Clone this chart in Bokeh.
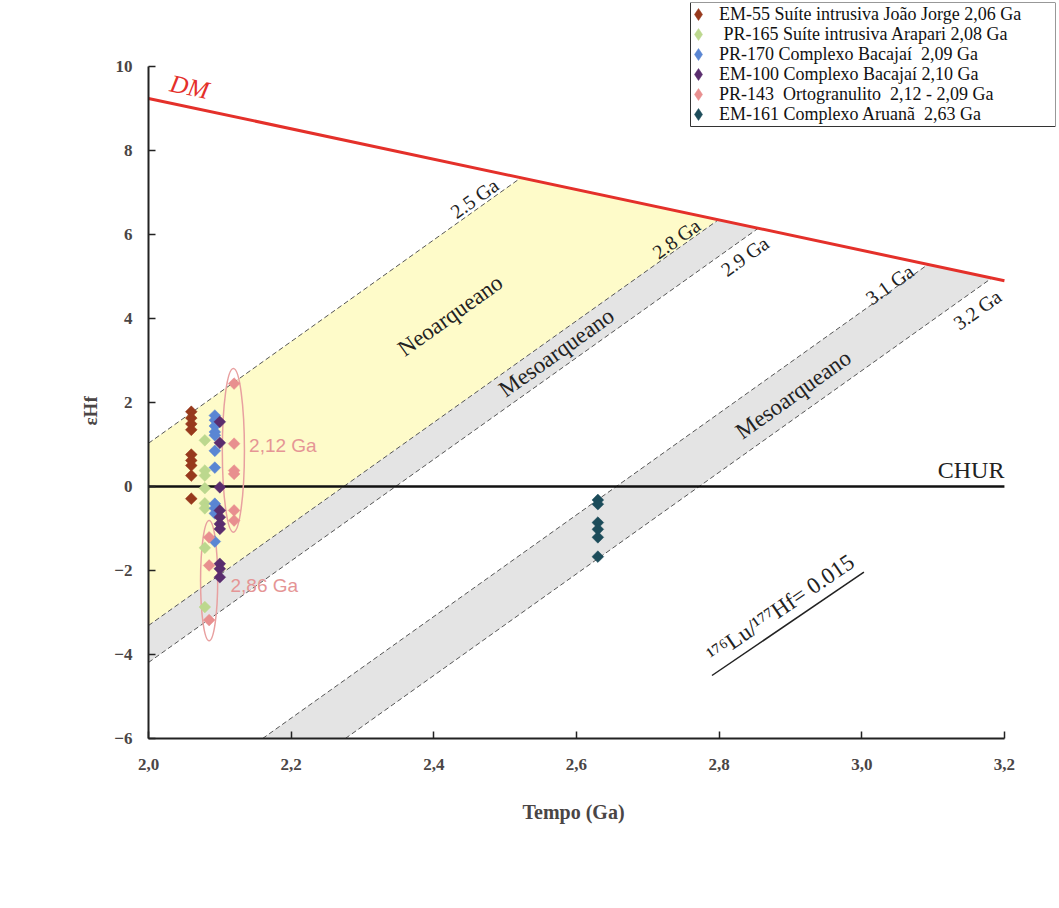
from bokeh.plotting import figure
from bokeh.models import Range1d, FixedTicker, Legend, LegendItem, Title, BoxAnnotation
from bokeh.core.properties import value
from bokeh.embed import file_html
from bokeh.resources import INLINE

# ---------------- data ----------------
x_ticks = [2.0, 2.2, 2.4, 2.6, 2.8, 3.0, 3.2]
x_tick_labels = ["2,0", "2,2", "2,4", "2,6", "2,8", "3,0", "3,2"]
y_ticks = [-6, -4, -2, 0, 2, 4, 6, 8, 10]
x_axis_bounds = (2.0, 3.2)
y_axis_bounds = (-6, 10)
x_label = "Tempo (Ga)"
y_label = "εHf"

dm_t = [2.0, 3.2]
dm_e = [9.24, 4.90]
chur_t = [2.0, 3.2]
chur_e = [0.0, 0.0]

# crustal evolution lines (176Lu/177Hf = 0.015): start and end points
model_labels = ["2.5 Ga", "2.8 Ga", "2.9 Ga", "3.1 Ga", "3.2 Ga"]
line_t0 = [2.0, 2.0, 2.0, 2.16, 2.276]
line_e0 = [1.03, -3.31, -4.19, -6.0, -6.0]
line_t1 = [2.522, 2.799, 2.855, 3.093, 3.182]
line_e1 = [7.35, 6.35, 6.15, 5.29, 4.96]
model_label_t = [2.457, 2.740, 2.836, 3.039, 3.162]
model_label_e = [6.86, 5.90, 5.48, 4.81, 4.21]

period_labels = ["Neoarqueano", "Mesoarqueano", "Mesoarqueano"]
period_t = [2.423, 2.572, 2.904]
period_e = [4.07, 3.19, 2.19]

# samples
em55_t = 2.06
em55_e = [1.78, 1.63, 1.49, 1.35, 0.76, 0.62, 0.50, 0.26, -0.29]
pr165_t = 2.079
pr165_e = [1.10, 0.38, 0.26, -0.04, -0.40, -0.52, -1.46, -2.87]
pr170_t = 2.093
pr170_e = [1.69, 1.58, 1.44, 1.30, 1.22, 0.85, 0.45, -0.41, -0.52, -0.64, -1.31]
em100_t = 2.10
em100_e = [1.54, 1.04, -0.02, -0.57, -0.73, -0.89, -1.01, -1.84, -1.96, -2.16]
pr143_t = [2.12, 2.12, 2.12, 2.12, 2.12, 2.12, 2.085, 2.085, 2.085]
pr143_e = [2.45, 1.02, 0.38, 0.30, -0.57, -0.81, -1.21, -1.88, -3.18]
em161_t = 2.63
em161_e = [-0.32, -0.42, -0.86, -1.02, -1.21, -1.67]

series_names = [
    "EM-55 Suíte intrusiva João Jorge 2,06 Ga",
    " PR-165 Suíte intrusiva Arapari 2,08 Ga",
    "PR-170 Complexo Bacajaí  2,09 Ga",
    "EM-100 Complexo Bacajaí 2,10 Ga",
    "PR-143  Ortogranulito  2,12 - 2,09 Ga",
    "EM-161 Complexo Aruanã  2,63 Ga",
]
series_colors = ["#97391c", "#bcd88e", "#5a86d3", "#5a2d6e", "#e88f8f", "#1c4c5a"]

# ellipses grouping PR-143 zircons
ell_t = [2.119, 2.085]
ell_e = [0.86, -2.24]
ell_w = [0.031, 0.024]
ell_h = [3.9, 2.86]
ell_labels = ["2,12 Ga", "2,86 Ga"]
ell_label_t = [2.141, 2.115]
ell_label_e = [0.98, -2.36]

ratio_line_t = [2.790, 3.003]
ratio_line_e = [-4.50, -2.04]
ratio_text = "¹⁷⁶Lu/¹⁷⁷Hf= 0.015"
ratio_text_t = 2.886
ratio_text_e = -2.90

# ---------------- figure ----------------
SERIF = "Liberation Serif"
AXIS_COLOR = "#4a4545"
FRAME_LEFT, FRAME_BOTTOM = 148, 738   # canvas px of the frame's lower-left corner
# frame is extended up/right so the legend box fits inside it; axes are bounded to the data box
p = figure(width=1059, height=908, x_range=Range1d(2.0, 3.2716), y_range=Range1d(-6, 11.524),
           output_backend="svg", toolbar_location=None,
           min_border_left=FRAME_LEFT, min_border_right=4, min_border_top=2,
           min_border_bottom=908 - FRAME_BOTTOM)
p.grid.visible = False
p.outline_line_color = None
p.background_fill_color = "white"
p.border_fill_color = "white"

for ax in (p.xaxis[0], p.yaxis[0]):
    ax.axis_line_color = "#222222"
    ax.axis_line_width = 2
    ax.major_tick_line_color = "#222222"
    ax.major_tick_line_width = 1.5
    ax.major_tick_in = 7
    ax.major_tick_out = 0
    ax.minor_tick_line_color = None
    ax.major_label_text_font = SERIF
    ax.major_label_text_font_style = "bold"
    ax.major_label_text_font_size = "17px"
    ax.major_label_text_color = AXIS_COLOR

p.xaxis.bounds = x_axis_bounds
p.yaxis.bounds = y_axis_bounds
p.xaxis.ticker = FixedTicker(ticks=x_ticks)
p.xaxis.major_label_overrides = {t: l for t, l in zip(x_ticks, x_tick_labels)}
p.xaxis.major_label_standoff = 20
p.yaxis.ticker = FixedTicker(ticks=y_ticks)
p.yaxis.major_label_standoff = 16

# axis titles, positioned on the bounded axes (not on the enlarged frame)
p.add_layout(Title(text=x_label, align="left", offset=374, standoff=53,
                   text_font=SERIF, text_font_style="bold", text_font_size="20px",
                   text_color=AXIS_COLOR), "below")
p.add_layout(Title(text=y_label, align="left", offset=313, standoff=22,
                   text_font=SERIF, text_font_style="bold", text_font_size="19px",
                   text_color=AXIS_COLOR), "left")

# filled bands
def band(i, j):
    return ([line_t0[i], line_t1[i], line_t1[j], line_t0[j]],
            [line_e0[i], line_e1[i], line_e1[j], line_e0[j]])

bands = [band(0, 1), band(1, 2), band(3, 4)]
p.patches(xs=[b[0] for b in bands], ys=[b[1] for b in bands],
          fill_color=["#fefbc9", "#e4e4e4", "#e4e4e4"], line_color=None)

# dashed model lines
p.segment(x0=line_t0, y0=line_e0, x1=line_t1, y1=line_e1,
          line_color="#555555", line_width=1, line_dash="5 3")

# DM and CHUR
p.line(dm_t, dm_e, line_color="#e4302a", line_width=3)
p.line(chur_t, chur_e, line_color="#111111", line_width=2.5)

# labels
p.text(x=model_label_t, y=model_label_e, text=model_labels, angle=35.5, angle_units="deg",
       text_font=value(SERIF), text_font_size="20px", text_color="#222222",
       text_align="center", text_baseline="middle")
p.text(x=period_t, y=period_e, text=period_labels, angle=35.5, angle_units="deg",
       text_font=value(SERIF), text_font_size="23px", text_color="#222222",
       text_align="center", text_baseline="middle")
p.text(x=[2.0575], y=[9.52], text=["DM"], angle=-12, angle_units="deg",
       text_font=value(SERIF), text_font_style="italic", text_font_size="25px",
       text_color="#e4302a", text_align="center", text_baseline="middle")
p.text(x=[3.2], y=[0.08], text=["CHUR"], text_font=value(SERIF), text_font_size="24px",
       text_color="#222222", text_align="right", text_baseline="bottom")

# Lu/Hf line and label
p.line(ratio_line_t, ratio_line_e, line_color="#222222", line_width=1.5)
p.text(x=[ratio_text_t], y=[ratio_text_e], text=[ratio_text], angle=34.3, angle_units="deg",
       text_font=value(SERIF), text_font_size="23px", text_color="#222222",
       text_align="center", text_baseline="middle")

# ellipses
p.ellipse(x=ell_t, y=ell_e, width=ell_w, height=ell_h, fill_color=None,
          line_color="#e8a0a0", line_width=1.5)
p.text(x=ell_label_t, y=ell_label_e, text=ell_labels, text_font=value("Liberation Sans"),
       text_font_size="19px", text_color="#e59595", text_align="left", text_baseline="middle")

# samples (diamonds = squares rotated 45 degrees)
series_t = [[em55_t] * len(em55_e), [pr165_t] * len(pr165_e), [pr170_t] * len(pr170_e),
            [em100_t] * len(em100_e), pr143_t, [em161_t] * len(em161_e)]
series_e = [em55_e, pr165_e, pr170_e, em100_e, pr143_e, em161_e]
swatches = []
for col, ts, es in zip(series_colors, series_t, series_e):
    p.scatter(x=ts, y=es, marker="square", angle=45, angle_units="deg", size=8.3,
              fill_color=col, line_color=col, line_width=0.5)
    # hidden diamond renderer of the same series, used for the legend swatch
    sw = p.scatter(x=ts, y=es, marker="diamond", fill_color=col, line_color=col,
                   line_width=0.5, visible=False)
    swatches.append(sw)

# legend box (screen px) and legend rows
LEG_LEFT, LEG_RIGHT, LEG_TOP, LEG_BOTTOM = 690, 1055, 2, 126
ROW0, ROW_STEP = 14.0, 20.0
GLYPH = 30          # swatch box; the diamond is drawn at 0.4 of it
p.add_layout(BoxAnnotation(left=LEG_LEFT - FRAME_LEFT, right=LEG_RIGHT - FRAME_LEFT,
                           top=FRAME_BOTTOM - LEG_TOP, bottom=FRAME_BOTTOM - LEG_BOTTOM,
                           left_units="screen", right_units="screen",
                           top_units="screen", bottom_units="screen",
                           fill_color="white", fill_alpha=1.0,
                           line_color="#333333", line_width=1, line_alpha=1.0))
for i, (name, sw) in enumerate(zip(series_names, swatches)):
    row_center = ROW0 + ROW_STEP * i
    leg = Legend(items=[LegendItem(label=name, renderers=[sw])],
                 location=(698 - GLYPH / 2 - FRAME_LEFT, FRAME_BOTTOM - row_center - GLYPH / 2),
                 label_text_font=SERIF, label_text_font_size="18px",
                 label_text_color="#111111",
                 glyph_width=GLYPH, glyph_height=GLYPH, label_height=14, spacing=0,
                 padding=0, margin=0, label_standoff=6,
                 border_line_color=None, background_fill_alpha=0.0)
    p.add_layout(leg, "center")

open("out.html", "w").write(file_html(p, INLINE))
